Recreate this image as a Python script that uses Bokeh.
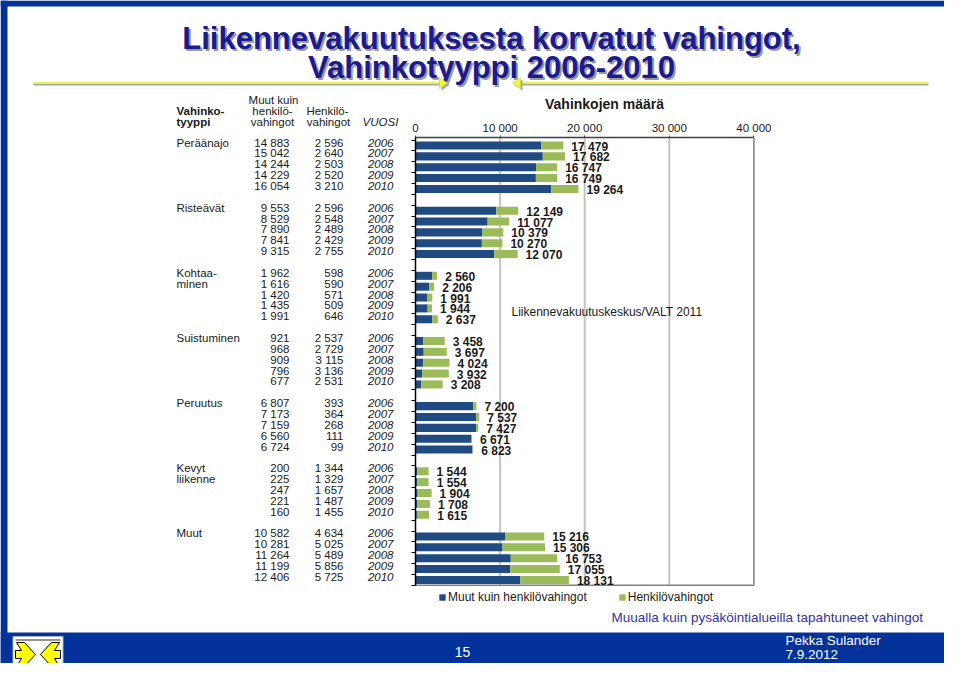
from bokeh.plotting import figure
from bokeh.models import Range1d, LinearAxis, FixedTicker, ColumnDataSource, Legend, LegendItem
from bokeh.core.properties import value
from bokeh.embed import file_html
from bokeh.resources import INLINE

# ---------------- data ----------------
categories = ["Peräänajo", "Risteävät", "Kohtaaminen", "Suistuminen", "Peruutus", "Kevyt liikenne", "Muut"]
category_lines = [["Peräänajo"], ["Risteävät"], ["Kohtaa-", "minen"], ["Suistuminen"],
                  ["Peruutus"], ["Kevyt", "liikenne"], ["Muut"]]
years = ["2006", "2007", "2008", "2009", "2010"]
muut_kuin_henkilo = [
    [14883, 15042, 14244, 14229, 16054],
    [9553, 8529, 7890, 7841, 9315],
    [1962, 1616, 1420, 1435, 1991],
    [921, 968, 909, 796, 677],
    [6807, 7173, 7159, 6560, 6724],
    [200, 225, 247, 221, 160],
    [10582, 10281, 11264, 11199, 12406],
]
henkilo = [
    [2596, 2640, 2503, 2520, 3210],
    [2596, 2548, 2489, 2429, 2755],
    [598, 590, 571, 509, 646],
    [2537, 2729, 3115, 3136, 2531],
    [393, 364, 268, 111, 99],
    [1344, 1329, 1657, 1487, 1455],
    [4634, 5025, 5489, 5856, 5725],
]
x_ticks = [0, 10000, 20000, 30000, 40000]
x_tick_labels = ["0", "10 000", "20 000", "30 000", "40 000"]
chart_title = "Vahinkojen määrä"
legend_labels = ["Muut kuin henkilövahingot", "Henkilövahingot"]
title_lines = ["Liikennevakuutuksesta korvatut vahingot,", "Vahinkotyyppi 2006-2010"]
header_type = ["Vahinko-", "tyyppi"]
header_muut = ["Muut kuin", "henkilö-", "vahingot"]
header_henk = ["Henkilö-", "vahingot"]
header_year = "VUOSI"
source_note = "Liikennevakuutuskeskus/VALT 2011"
sub_note = "Muualla kuin pysäköintialueilla tapahtuneet vahingot"
page_number = "15"
author = "Pekka Sulander"
date_text = "7.9.2012"

# ---------------- styles ----------------
FONT = value("Liberation Sans")
BLUE_BAR = "#1f4a82"
GREEN_BAR = "#9bbb59"
SLIDE_BLUE = "#03339a"
NAVY = "#1b1b8f"
TXT = "#1a1a1a"


def fmt(v):
    return f"{v:,}".replace(",", " ")


GROUP_STEP = 6
slot, m_vals, h_vals, tot, tot_lab, m_lab, h_lab, yr_lab = [], [], [], [], [], [], [], []
for g in range(len(categories)):
    for i, yr in enumerate(years):
        s = g * GROUP_STEP + i
        m = muut_kuin_henkilo[g][i]
        h = henkilo[g][i]
        slot.append(s)
        m_vals.append(m)
        h_vals.append(h)
        tot.append(m + h)
        tot_lab.append(fmt(m + h))
        m_lab.append(fmt(m))
        h_lab.append(fmt(h))
        yr_lab.append(yr)
n_slots = (len(categories) - 1) * GROUP_STEP + len(years)

src = ColumnDataSource(dict(slot=slot, muut=m_vals, henk=h_vals, total=tot,
                            tlab=tot_lab, mlab=m_lab, hlab=h_lab, ylab=yr_lab))

cat_slot, cat_txt = [], []
for g, lines in enumerate(category_lines):
    for k, ln in enumerate(lines):
        cat_slot.append(g * GROUP_STEP + k)
        cat_txt.append(ln)

# ---------------- figure (canvas in reference pixel coords) ----------------
W, H = 944, 663
OX, OY = 0, 0
p = figure(width=W, height=H, x_range=Range1d(OX, OX + W), y_range=Range1d(OY + H, OY),
           output_backend="svg", toolbar_location=None, min_border=0,
           x_axis_location=None, y_axis_location=None)
p.grid.visible = False
p.outline_line_color = None
p.background_fill_color = "white"
p.border_fill_color = "white"

# value / slot scales for the bar chart
X0 = 415.0
PPU = 84.6 / 10000.0
Y0 = 145.0
PITCH = 10.86
p.extra_x_ranges = {"val": Range1d((OX - X0) / PPU, (OX + W - X0) / PPU)}
p.extra_y_ranges = {"slot": Range1d((OY + H - Y0) / PITCH, (OY - Y0) / PITCH)}
TOP_S = -0.72
BOT_S = n_slots - 0.5

# ---------------- slide decorations ----------------
p.quad(left=[0], right=[7], top=[0], bottom=[H], fill_color=SLIDE_BLUE, line_color=None)
p.quad(left=[0], right=[W], top=[0], bottom=[6], fill_color=SLIDE_BLUE, line_color=None)

# title with shadow
for k, (ln, yy) in enumerate(zip(title_lines, [38, 67])):
    p.text(x=[493], y=[yy + 2], text=[ln], text_align="center", text_baseline="middle",
           text_font=FONT, text_font_style="bold", text_font_size="31px", text_color="#9a9a9a")
    p.text(x=[491], y=[yy], text=[ln], text_align="center", text_baseline="middle",
           text_font=FONT, text_font_style="bold", text_font_size="31px", text_color=NAVY)

# separator lines with arrowheads
p.segment(x0=[33, 515], y0=[84, 84], x1=[446, 928], y1=[84, 84], line_color="#a8a8a8", line_width=2)
p.segment(x0=[33, 515], y0=[82, 82], x1=[446, 928], y1=[82, 82], line_color="#f2f25a", line_width=1.5)
p.patches(xs=[[441, 449, 441], [522, 514, 522]], ys=[[79, 84.5, 90], [79, 84.5, 90]],
          fill_color="#a8a8a8", line_color=None)
p.patches(xs=[[439, 447, 439], [520, 512, 520]], ys=[[77, 82.5, 88], [77, 82.5, 88]],
          fill_color="#f5f53a", line_color="#d0d020", line_width=0.5)

# footer
p.quad(left=[0], right=[W], top=[632], bottom=[H], fill_color=SLIDE_BLUE, line_color=None)
p.quad(left=[12.5], right=[62.5], top=[636], bottom=[674], fill_color="white", line_color="#b0b0c8")
lx = [15, 21, 16, 24, 35, 24, 16, 21, 15]
ly = [650, 650, 642, 642, 654, 666, 666, 658, 658]
rx = [75 - v for v in lx]
p.patches(xs=[lx, rx], ys=[ly, ly], fill_color="#ffff00", line_color="black", line_width=1)
p.segment(x0=[15], y0=[639.5], x1=[60], y1=[639.5], line_color="#707070", line_width=1.5)

p.text(x=[462], y=[651], text=[page_number], text_align="center", text_baseline="middle",
       text_font=FONT, text_font_size="14px", text_color="white")
p.text(x=[785, 785], y=[640, 654], text=[author, date_text], text_align="left", text_baseline="middle",
       text_font=FONT, text_font_size="13.5px", text_color="white")

# ---------------- table ----------------
p.text(x=[176, 176], y=[110, 121], text=header_type, text_align="left", text_baseline="middle",
       text_font=FONT, text_font_style="bold", text_font_size="11.5px", text_color=TXT)
p.text(x=[273, 272, 272], y=[99, 110, 121], text=header_muut, text_align="center", text_baseline="middle",
       text_font=FONT, text_font_size="11.5px", text_color=TXT)
p.text(x=[327, 328], y=[110, 121], text=header_henk, text_align="center", text_baseline="middle",
       text_font=FONT, text_font_size="11.5px", text_color=TXT)
p.text(x=[380], y=[121], text=[header_year], text_align="center", text_baseline="middle",
       text_font=FONT, text_font_style="italic", text_font_size="11.5px", text_color=TXT)

p.text(x=176, y=cat_slot, text=cat_txt, y_range_name="slot", y_offset=-3,
       text_align="left", text_baseline="middle", text_font=FONT, text_font_size="11.5px", text_color=TXT)
p.text(x=289, y="slot", text="mlab", source=src, y_range_name="slot", y_offset=-3,
       text_align="right", text_baseline="middle", text_font=FONT, text_font_size="11.5px", text_color=TXT)
p.text(x=343, y="slot", text="hlab", source=src, y_range_name="slot", y_offset=-3,
       text_align="right", text_baseline="middle", text_font=FONT, text_font_size="11.5px", text_color=TXT)
p.text(x=393, y="slot", text="ylab", source=src, y_range_name="slot", y_offset=-3,
       text_align="right", text_baseline="middle", text_font=FONT, text_font_style="italic",
       text_font_size="11.5px", text_color=TXT)

# ---------------- bar chart ----------------
p.text(x=[604], y=[103], text=[chart_title], text_align="center", text_baseline="middle",
       text_font=FONT, text_font_style="bold", text_font_size="14px", text_color=TXT)

inner = x_ticks[1:-1]
p.segment(x0=inner, y0=[TOP_S] * len(inner), x1=inner, y1=[BOT_S] * len(inner),
          x_range_name="val", y_range_name="slot", line_color="#c4c4c4", line_width=2)
p.segment(x0=[x_ticks[-1], x_ticks[0]], y0=[TOP_S, BOT_S], x1=[x_ticks[-1], x_ticks[-1]], y1=[BOT_S, BOT_S],
          x_range_name="val", y_range_name="slot", line_color="#808080", line_width=1.5)

blue = p.hbar(y="slot", left=0, right="muut", height=0.74, source=src, x_range_name="val",
              y_range_name="slot", fill_color=BLUE_BAR, line_color=None)
green = p.hbar(y="slot", left="muut", right="total", height=0.74, source=src, x_range_name="val",
               y_range_name="slot", fill_color=GREEN_BAR, line_color=None)
p.text(x="total", y="slot", text="tlab", source=src, x_range_name="val", y_range_name="slot",
       x_offset=8, y_offset=1, text_align="left", text_baseline="middle", text_font=FONT,
       text_font_style="bold", text_font_size="12px", text_color=TXT)

xaxis = LinearAxis(x_range_name="val", y_range_name="slot", fixed_location=TOP_S,
                   bounds=(x_ticks[0], x_ticks[-1]), ticker=FixedTicker(ticks=x_ticks),
                   major_label_overrides={t: l for t, l in zip(x_ticks, x_tick_labels)},
                   axis_line_color="#404040", axis_line_width=1.5, major_tick_out=2, major_tick_in=0,
                   major_tick_line_color="#404040", minor_tick_out=0, minor_tick_in=0,
                   major_label_standoff=2, major_label_text_font="Liberation Sans",
                   major_label_text_font_size="11.5px", major_label_text_color=TXT)
p.add_layout(xaxis, "above")

yaxis = LinearAxis(x_range_name="val", y_range_name="slot", fixed_location=0,
                   bounds=(TOP_S, BOT_S), ticker=FixedTicker(ticks=[k - 0.5 for k in range(n_slots + 1)]),
                   axis_line_color="black", axis_line_width=1.5, major_tick_out=4, major_tick_in=0,
                   major_tick_line_color="black", major_tick_line_width=1.2,
                   minor_tick_out=0, minor_tick_in=0, major_label_text_color=None,
                   major_label_text_font_size="1px")
p.add_layout(yaxis, "left")

legend = Legend(items=[LegendItem(label=legend_labels[0], renderers=[blue]),
                       LegendItem(label=legend_labels[1], renderers=[green])],
                location=(438 - OX, OY + H - 604), orientation="horizontal",
                glyph_width=8, glyph_height=8, label_height=8, label_standoff=2, spacing=31,
                padding=0, margin=0, border_line_color=None, background_fill_alpha=0,
                label_text_font="Liberation Sans", label_text_font_size="12px",
                label_text_color=TXT, label_text_baseline="middle")
p.add_layout(legend)

p.text(x=[511], y=[311], text=[source_note], text_align="left", text_baseline="middle",
       text_font=FONT, text_font_size="12px", text_color=TXT)
p.text(x=[611], y=[617], text=[sub_note], text_align="left", text_baseline="middle",
       text_font=FONT, text_font_size="13.5px", text_color="#333399")

open("out.html", "w").write(file_html(p, INLINE))
